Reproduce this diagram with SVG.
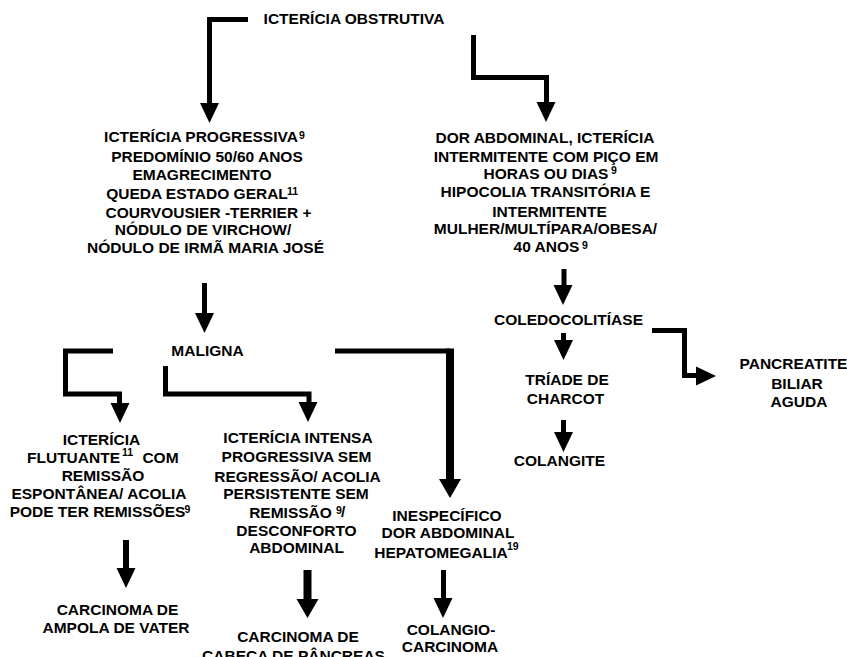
<svg xmlns="http://www.w3.org/2000/svg" xmlns:xlink="http://www.w3.org/1999/xlink" width="847" height="657" viewBox="0 0 847 657">
<style>
text{font-family:"Liberation Sans",Arial,Helvetica,sans-serif;font-weight:bold;font-size:15.5px;fill:#000;text-anchor:middle}
text.sup{font-size:10.5px;text-anchor:start}
text.st{text-anchor:start}
.ln{fill:none;stroke:#000;stroke-width:5;stroke-linejoin:miter;stroke-linecap:butt}
.thk{stroke-width:8}
.ah{fill:#000}
</style>
<defs>
<path id="ah" d="M-9.5,-20 L9.5,-20 L0,0 Z"/>
<path id="ahb" d="M-11,-19 L11,-19 L0,0 Z"/>
</defs>
<rect width="847" height="657" fill="#fff"/>

<g id="connectors">
<polyline class="ln" points="248,19.5 209.5,19.5 209.5,105"/>
<use href="#ah" class="ah" x="209.5" y="123"/>
<polyline class="ln" points="473.5,35 473.5,77.5 546.5,77.5 546.5,104"/>
<use href="#ah" class="ah" x="546" y="122"/>
<polyline class="ln" points="204.5,283 204.5,316"/>
<use href="#ah" class="ah" x="204.5" y="333"/>
<polyline class="ln" points="564,269 564,288"/>
<use href="#ah" class="ah" x="563" y="305"/>
<polyline class="ln" points="652,330.5 684.5,330.5 684.5,375.5 699,375.5"/>
<use href="#ah" class="ah" transform="translate(716,376) rotate(-90)"/>
<polyline class="ln" points="563.5,333 563.5,343"/>
<use href="#ah" class="ah" x="563.5" y="360"/>
<polyline class="ln" points="563.5,420 563.5,434"/>
<use href="#ah" class="ah" x="563.5" y="452"/>
<polyline class="ln" points="113,351 65.5,351 65.5,394 119.5,394 119.5,405"/>
<use href="#ah" class="ah" x="120" y="423"/>
<polyline class="ln" points="165.5,366 165.5,394 309,394 309,404"/>
<use href="#ah" class="ah" x="308" y="422"/>
<polyline class="ln" points="335,351 450,351"/>
<polyline class="ln thk" points="450,348.5 450,481"/>
<use href="#ahb" class="ah" x="450" y="498"/>
<polyline class="ln" style="stroke-width:6" points="126,540 126,571"/>
<use href="#ah" class="ah" x="126" y="588"/>
<polyline class="ln thk" points="307.5,570 307.5,601"/>
<use href="#ahb" class="ah" x="307.5" y="618"/>
<polyline class="ln" points="443.5,570 443.5,603"/>
<use href="#ah" class="ah" x="443" y="618"/>
</g>

<g id="n-obstrutiva">
<text x="354" y="24">ICTERÍCIA OBSTRUTIVA</text>
</g>

<g id="n-progressiva">
<text x="201" y="142">ICTERÍCIA PROGRESSIVA</text>
<text class="sup" x="299" y="139">9</text>
<text x="207" y="162">PREDOMÍNIO 50/60 ANOS</text>
<text x="202" y="180">EMAGRECIMENTO</text>
<text x="197" y="199">QUEDA ESTADO GERAL</text>
<text class="sup" x="287" y="195">11</text>
<text x="208.5" y="218">COURVOUSIER -TERRIER +</text>
<text x="203" y="235">NÓDULO DE VIRCHOW/</text>
<text x="205.5" y="253">NÓDULO DE IRMÃ MARIA JOSÉ</text>
</g>

<g id="n-dor">
<text x="545" y="143">DOR ABDOMINAL, ICTERÍCIA</text>
<text x="546" y="162">INTERMITENTE COM PIÇO EM</text>
<text x="546" y="179">HORAS OU DIAS</text>
<text class="sup" x="611" y="174">9</text>
<text x="545.5" y="197">HIPOCOLIA TRANSITÓRIA E</text>
<text x="549.5" y="217">INTERMITENTE</text>
<text x="545.5" y="234">MULHER/MULTÍPARA/OBESA/</text>
<text x="546.5" y="252">40 ANOS</text>
<text class="sup" x="582" y="249">9</text>
</g>

<g id="n-maligna">
<text x="207.5" y="356">MALIGNA</text>
</g>

<g id="n-coledoco">
<text x="568.5" y="325">COLEDOCOLITÍASE</text>
</g>

<g id="n-pancreatite">
<text x="793.5" y="369">PANCREATITE</text>
<text x="797" y="389">BILIAR</text>
<text x="799" y="407">AGUDA</text>
</g>

<g id="n-triade">
<text x="567" y="385">TRÍADE DE</text>
<text x="565.5" y="404">CHARCOT</text>
</g>

<g id="n-colangite">
<text x="559.5" y="466">COLANGITE</text>
</g>

<g id="n-flutuante">
<text x="101.5" y="445">ICTERÍCIA</text>
<text x="73.5" y="463">FLUTUANTE</text>
<text class="sup" x="122" y="456">11</text>
<text x="160.5" y="463">COM</text>
<text x="103" y="481">REMISSÃO</text>
<text x="99" y="499">ESPONTÂNEA/ ACOLIA</text>
<text x="97.5" y="517">PODE TER REMISSÕES</text>
<text class="sup" x="184.5" y="513">9</text>
</g>

<g id="n-intensa">
<text x="298" y="443">ICTERÍCIA INTENSA</text>
<text x="296.5" y="462">PROGRESSIVA SEM</text>
<text x="297.5" y="482">REGRESSÃO/ ACOLIA</text>
<text x="296" y="499">PERSISTENTE SEM</text>
<text x="290.5" y="518">REMISSÃO</text>
<text class="sup" x="336" y="514">9</text>
<text class="st" x="341" y="517">/</text>
<text x="296.5" y="536">DESCONFORTO</text>
<text x="296.5" y="553">ABDOMINAL</text>
</g>

<g id="n-inespecifico">
<text x="447" y="521">INESPECÍFICO</text>
<text x="448" y="538">DOR ABDOMINAL</text>
<text x="441" y="558">HEPATOMEGALIA</text>
<text class="sup" x="507" y="550">19</text>
</g>

<g id="n-ampola">
<text x="117.5" y="615">CARCINOMA DE</text>
<text x="116" y="633">AMPOLA DE VATER</text>
</g>

<g id="n-cabeca">
<text x="298" y="642">CARCINOMA DE</text>
<text x="293.5" y="661">CABEÇA DE PÂNCREAS</text>
</g>

<g id="n-colangiocarcinoma">
<text x="451" y="635">COLANGIO-</text>
<text x="450" y="652">CARCINOMA</text>
</g>
</svg>
